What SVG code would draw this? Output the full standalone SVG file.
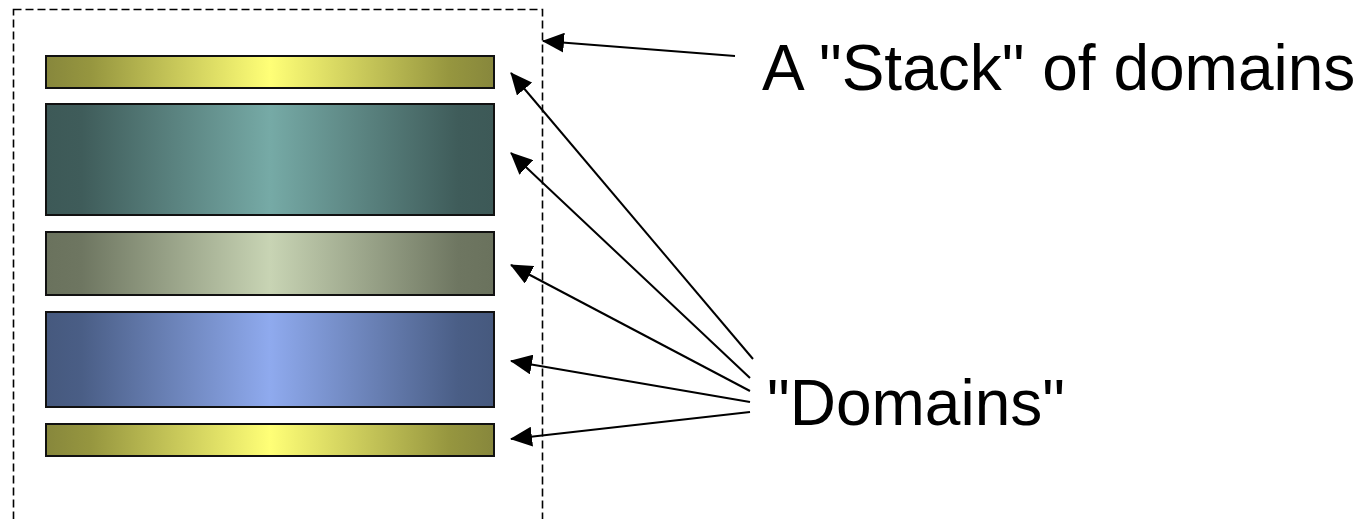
<svg xmlns="http://www.w3.org/2000/svg" width="1366" height="519" viewBox="0 0 1366 519">
<style>
.bar{stroke:#111;stroke-width:2}
.conn line{stroke:#000;stroke-width:2;marker-end:url(#ah)}
.lbl{font-family:"Liberation Sans",Arial,sans-serif;font-size:64px;fill:#000}
</style>
<defs>
<linearGradient id="gY" x1="0" x2="1" y1="0" y2="0">
<stop offset="0" stop-color="#87873c"/><stop offset="0.1" stop-color="#96963f"/><stop offset="0.5" stop-color="#ffff77"/><stop offset="0.9" stop-color="#96963f"/><stop offset="1" stop-color="#87873c"/>
</linearGradient>
<linearGradient id="gT" x1="0" x2="1" y1="0" y2="0">
<stop offset="0" stop-color="#3d5957"/><stop offset="0.08" stop-color="#3f5c5a"/><stop offset="0.5" stop-color="#76aaa6"/><stop offset="0.92" stop-color="#3f5c5a"/><stop offset="1" stop-color="#3d5957"/>
</linearGradient>
<linearGradient id="gS" x1="0" x2="1" y1="0" y2="0">
<stop offset="0" stop-color="#6a725d"/><stop offset="0.08" stop-color="#6e7661"/><stop offset="0.5" stop-color="#c8d4b4"/><stop offset="0.92" stop-color="#6e7661"/><stop offset="1" stop-color="#6a725d"/>
</linearGradient>
<linearGradient id="gB" x1="0" x2="1" y1="0" y2="0">
<stop offset="0" stop-color="#46597e"/><stop offset="0.08" stop-color="#4a5e86"/><stop offset="0.5" stop-color="#8faaee"/><stop offset="0.92" stop-color="#4a5e86"/><stop offset="1" stop-color="#46597e"/>
</linearGradient>
<marker id="ah" markerUnits="userSpaceOnUse" markerWidth="22" markerHeight="20" viewBox="0 0 22 20" refX="21" refY="10" orient="auto">
<path d="M0,0 L22,10 L0,20 Z" fill="#000"/>
</marker>
</defs>
<g id="stack">
<rect x="13.5" y="9.5" width="529" height="530" fill="none" stroke="#000" stroke-width="1.6" stroke-dasharray="8,4"/>
</g>
<g id="domain1"><rect class="bar" x="46" y="56" width="448" height="32" fill="url(#gY)"/></g>
<g id="domain2"><rect class="bar" x="46" y="104" width="448" height="111" fill="url(#gT)"/></g>
<g id="domain3"><rect class="bar" x="46" y="232" width="448" height="63" fill="url(#gS)"/></g>
<g id="domain4"><rect class="bar" x="46" y="312" width="448" height="95" fill="url(#gB)"/></g>
<g id="domain5"><rect class="bar" x="46" y="424" width="448" height="32" fill="url(#gY)"/></g>
<g id="connectors" class="conn">
<line x1="735" y1="56" x2="543" y2="41"/>
<line x1="753" y1="359" x2="511" y2="73"/>
<line x1="750" y1="378" x2="511" y2="153"/>
<line x1="750" y1="391" x2="511" y2="265"/>
<line x1="750" y1="402" x2="511" y2="361"/>
<line x1="750" y1="412" x2="511" y2="439"/>
</g>
<g id="label-stack"><text class="lbl" x="762" y="90">A "Stack" of domains</text></g>
<g id="label-domains"><text class="lbl" x="767" y="425">"Domains"</text></g>
</svg>
